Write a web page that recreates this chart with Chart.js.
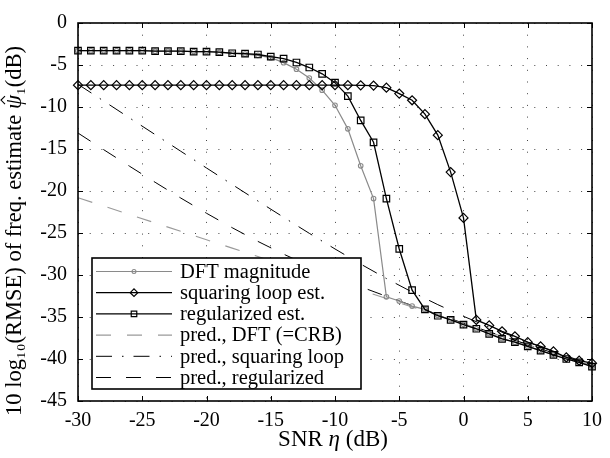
<!DOCTYPE html>
<html><head><meta charset="utf-8">
<script src="https://cdn.jsdelivr.net/npm/chart.js@4/dist/chart.umd.min.js"></script>
<style>html,body{margin:0;padding:0;background:#fff}canvas{display:block}</style>
</head><body>
<canvas id="c" width="610" height="458"></canvas>
<script>
// ---- data ----
const snr = [-30,-29,-28,-27,-26,-25,-24,-23,-22,-21,-20,-19,-18,-17,-16,-15,-14,-13,-12,-11,-10,-9,-8,-7,-6,-5,-4,-3,-2,-1,0,1,2,3,4,5,6,7,8,9,10];
const dftMagnitude = [-3.3,-3.3,-3.3,-3.3,-3.3,-3.3,-3.35,-3.35,-3.35,-3.4,-3.4,-3.5,-3.6,-3.7,-3.85,-4.13,-4.72,-5.5,-6.55,-8.0,-9.8,-12.6,-17.0,-20.9,-32.6,-33.1,-33.7,-34.1,-34.8,-35.3,-35.85,-36.4,-36.95,-37.55,-38.0,-38.5,-39.0,-39.5,-40.0,-40.4,-40.85];
const squaringLoopEst = [-7.4,-7.4,-7.4,-7.4,-7.4,-7.4,-7.4,-7.4,-7.4,-7.4,-7.4,-7.4,-7.4,-7.4,-7.4,-7.4,-7.4,-7.4,-7.4,-7.4,-7.4,-7.4,-7.42,-7.45,-7.7,-8.4,-9.2,-10.85,-13.35,-17.75,-23.2,-35.35,-36.0,-36.7,-37.3,-38.0,-38.5,-39.1,-39.8,-40.2,-40.5];
const regularizedEst = [-3.3,-3.3,-3.3,-3.3,-3.3,-3.3,-3.35,-3.35,-3.35,-3.4,-3.4,-3.47,-3.6,-3.65,-3.75,-4.0,-4.25,-4.7,-5.3,-6.05,-7.1,-8.7,-11.6,-14.2,-20.9,-26.9,-31.8,-34.1,-34.85,-35.35,-35.9,-36.4,-37.0,-37.6,-38.0,-38.5,-39.0,-39.5,-40.0,-40.4,-40.9];
const predSnr = [-30,-28,-26,-24,-22,-20,-18,-16,-14,-12,-10,-8,-6,-4,-2,0,2,4,6,8,10];
const predDFT = [-20.8,-21.8,-22.8,-23.8,-24.8,-25.8,-26.8,-27.8,-28.8,-29.8,-30.8,-31.8,-32.8,-33.8,-34.8,-35.8,-36.8,-37.8,-38.8,-39.8,-40.8];
const predSquaringLoop = [-7.30,-9.29,-11.29,-13.28,-15.27,-17.26,-19.23,-21.19,-23.13,-25.04,-26.90,-28.70,-30.42,-32.03,-33.53,-34.92,-36.20,-37.41,-38.54,-39.63,-40.69];
const predRegularized = [-13.1,-15.08,-17.04,-18.96,-20.84,-22.65,-24.37,-26.0,-27.52,-28.91,-30.19,-31.40,-32.54,-33.63,-34.69,-35.73,-36.76,-37.77,-38.78,-39.79,-40.79];
const xTicks = [-30,-25,-20,-15,-10,-5,0,5,10];
const yTicks = [0,-5,-10,-15,-20,-25,-30,-35,-40,-45];
const seriesLabels = ['DFT magnitude','squaring loop est.','regularized est.','pred., DFT (=CRB)','pred., squaring loop','pred., regularized'];
const xTitle = ['SNR ', 'η', ' (dB)'];
const yTitle = ['10 log₁₀(RMSE) of freq. estimate ', 'ψ', '₁(dB)'];

const pts = (xs, ys) => xs.map((x, i) => ({x: x, y: ys[i]}));
const FONT = '"Liberation Serif", "DejaVu Serif", serif';
const GREY = '#8a8a8a';

const datasets = [
  {label: seriesLabels[0], data: pts(snr, dftMagnitude), borderColor: GREY, borderWidth: 1.2,
   pointStyle: 'circle', pointRadius: 2.3, pointBorderColor: GREY, pointBackgroundColor: 'rgba(0,0,0,0)', pointBorderWidth: 1.1, order: 2, clip: false},
  {label: seriesLabels[1], data: pts(snr, squaringLoopEst), borderColor: '#000', borderWidth: 1.3,
   pointStyle: 'rectRot', pointRadius: 4.5, pointBorderColor: '#000', pointBackgroundColor: 'rgba(0,0,0,0)', pointBorderWidth: 1.2, order: 1, clip: false},
  {label: seriesLabels[2], data: pts(snr, regularizedEst), borderColor: '#000', borderWidth: 1.3,
   pointStyle: 'rect', pointRadius: 4.6, pointBorderColor: '#000', pointBackgroundColor: 'rgba(0,0,0,0)', pointBorderWidth: 1.2, order: 0, clip: false},
  {label: seriesLabels[3], data: pts(predSnr, predDFT), borderColor: '#9a9a9a', borderWidth: 1.1, borderDash: [15, 16],
   pointRadius: 0, order: 5},
  {label: seriesLabels[4], data: pts(predSnr, predSquaringLoop), borderColor: '#000', borderWidth: 1, borderDash: [16, 10, 1.5, 10],
   pointRadius: 0, order: 4},
  {label: seriesLabels[5], data: pts(predSnr, predRegularized), borderColor: '#000', borderWidth: 1, borderDash: [15, 15],
   pointRadius: 0, order: 3}
];
datasets.forEach(d => { d.fill = false; d.tension = 0; d.showLine = true; });

// draws text pieces, the middle one in italics; returns [start, width] of the middle piece
function drawSegments(ctx, segs, x, y, size) {
  const fonts = segs.map((s, i) => (i === 1 ? 'italic ' : '') + size + 'px ' + FONT);
  let total = 0;
  const widths = segs.map((s, i) => { ctx.font = fonts[i]; const w = ctx.measureText(s).width; total += w; return w; });
  let cx = x - total / 2;
  let mid = null;
  ctx.textBaseline = 'middle';
  ctx.textAlign = 'left';
  segs.forEach((s, i) => { ctx.font = fonts[i]; if (i === 1) mid = [cx, widths[i]]; ctx.fillText(s, cx, y); cx += widths[i]; });
  return mid;
}

const decor = {
  id: 'decor',
  afterDatasetsDraw(chart) {
    const ctx = chart.ctx, a = chart.chartArea;
    const xs = chart.scales.x, ys = chart.scales.y;
    ctx.save();
    ctx.strokeStyle = '#000';
    ctx.lineWidth = 1;
    // inward tick marks on all four sides
    ctx.beginPath();
    xTicks.forEach(v => {
      const px = Math.round(xs.getPixelForValue(v)) + 0.5;
      ctx.moveTo(px, a.bottom); ctx.lineTo(px, a.bottom - 5);
      ctx.moveTo(px, a.top); ctx.lineTo(px, a.top + 5);
    });
    yTicks.forEach(v => {
      const py = Math.round(ys.getPixelForValue(v)) + 0.5;
      ctx.moveTo(a.left, py); ctx.lineTo(a.left + 5, py);
      ctx.moveTo(a.right, py); ctx.lineTo(a.right - 5, py);
    });
    ctx.stroke();
    // frame
    ctx.lineWidth = 1.6;
    ctx.strokeRect(a.left, a.top, a.right - a.left, a.bottom - a.top);

    // legend box
    const lx = 92, ly = 258, lw = 269, lh = 131;
    ctx.fillStyle = '#fff';
    ctx.fillRect(lx, ly, lw, lh);
    ctx.lineWidth = 1.6;
    ctx.strokeRect(lx, ly, lw, lh);
    const H = Chart.helpers;
    chart.data.datasets.forEach((d, i) => {
      const yy = ly + 13.5 + i * 21.2;
      ctx.save();
      ctx.strokeStyle = d.borderColor;
      ctx.lineWidth = d.borderWidth;
      ctx.setLineDash(d.borderDash || []);
      ctx.beginPath();
      ctx.moveTo(96, yy); ctx.lineTo(172, yy);
      ctx.stroke();
      ctx.setLineDash([]);
      if (d.pointRadius > 0 && H && H.drawPoint) {
        ctx.fillStyle = d.pointBackgroundColor;
        ctx.strokeStyle = d.pointBorderColor;
        ctx.lineWidth = d.pointBorderWidth;
        H.drawPoint(ctx, {pointStyle: d.pointStyle, radius: d.pointRadius * 0.85, borderWidth: d.pointBorderWidth, rotation: 0}, 134, yy);
      }
      ctx.restore();
      ctx.fillStyle = '#000';
      ctx.font = '20.5px ' + FONT;
      ctx.textBaseline = 'middle';
      ctx.textAlign = 'left';
      ctx.fillText(d.label, 180, yy + 1);
    });

    // axis titles
    ctx.fillStyle = '#000';
    drawSegments(ctx, xTitle, (a.left + a.right) / 2 - 2, 440, 23);
    ctx.save();
    ctx.translate(15, 231);
    ctx.rotate(-Math.PI / 2);
    const m = drawSegments(ctx, yTitle, 0, 0, 22.5);
    // circumflex accent over psi
    const hx = m[0] + m[1] / 2 + 2;
    ctx.lineWidth = 1.1;
    ctx.strokeStyle = '#000';
    ctx.beginPath();
    ctx.moveTo(hx - 4, -10);
    ctx.lineTo(hx, -14);
    ctx.lineTo(hx + 4, -10);
    ctx.stroke();
    ctx.restore();
    ctx.restore();
  }
};

const tickFont = {family: FONT, size: 20};
new Chart(document.getElementById('c').getContext('2d'), {
  type: 'line',
  data: {datasets: datasets},
  options: {
    responsive: false,
    animation: false,
    events: [],
    layout: {padding: {left: 0, top: 16, right: 11, bottom: 0}},
    plugins: {legend: {display: false}, tooltip: {enabled: false}},
    scales: {
      x: {
        type: 'linear', min: -30, max: 10,
        afterBuildTicks: s => { s.ticks = xTicks.map(v => ({value: v})); },
        afterFit: s => { s.height = 57; },
        ticks: {font: tickFont, color: '#000', padding: 8, maxRotation: 0, autoSkip: false, callback: v => String(v)},
        grid: {color: '#444', lineWidth: 1, drawTicks: false},
        border: {display: false, dash: [1, 10.7]}
      },
      y: {
        type: 'linear', min: -45, max: 0,
        afterBuildTicks: s => { s.ticks = yTicks.map(v => ({value: v})); },
        afterFit: s => { s.width = 78; },
        ticks: {font: tickFont, color: '#000', padding: 11, autoSkip: false, callback: v => String(v)},
        grid: {color: '#444', lineWidth: 1, drawTicks: false},
        border: {display: false, dash: [1, 10.7]}
      }
    }
  },
  plugins: [decor]
});
</script>
</body></html>
